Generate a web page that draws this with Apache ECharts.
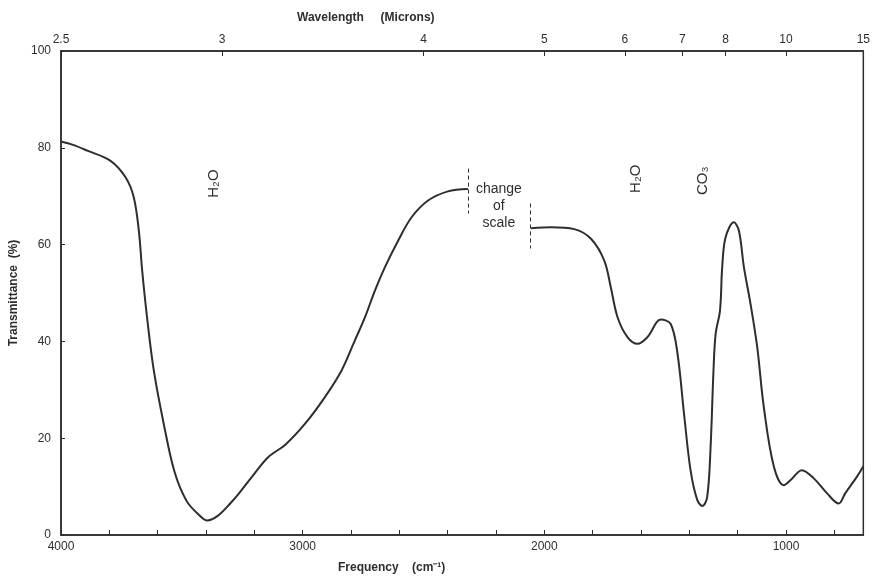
<!DOCTYPE html>
<html>
<head>
<meta charset="utf-8">
<script src="https://cdn.jsdelivr.net/npm/echarts@6/dist/echarts.min.js"></script>
<style>
  html, body { margin: 0; padding: 0; background: #fff; }
  #chart { width: 873px; height: 578px; }
</style>
</head>
<body>
<div id="chart"></div>
<script>
// spectrum before the change of scale (cm-1, % transmittance)
const waveHigh = [4000, 3950, 3891, 3795, 3733, 3699, 3678, 3664, 3644, 3616, 3575, 3530, 3480, 3430, 3395, 3350, 3300, 3265, 3210, 3142, 3073, 2990, 2908, 2839, 2784, 2742, 2701, 2660, 2605, 2550, 2481, 2399, 2316];
const transHigh = [81.3, 80.6, 79.4, 77.3, 73.9, 69.8, 62.9, 54.6, 45, 34, 23, 13, 7, 4.2, 3, 4, 6.5, 8.5, 12, 16.1, 18.6, 23, 28.5, 34, 40.2, 45, 50.5, 55.3, 60.8, 65.6, 69.1, 71, 71.5];

// spectrum after the change of scale
const waveLow = [2055, 1972, 1876, 1807, 1752, 1725, 1697, 1656, 1614, 1573, 1518, 1477, 1449, 1422, 1395, 1367, 1346, 1326, 1312, 1300, 1291, 1273, 1264, 1250, 1216, 1195, 1174, 1147, 1119, 1092, 1050, 1009, 982, 934, 885, 830, 782, 755, 707, 680];
const transLow = [63.4, 63.6, 63.2, 61.2, 56.7, 51.2, 45, 40.9, 39.5, 40.9, 44.5, 43.6, 37.5, 25.1, 13.4, 7.2, 6, 7.9, 18.2, 34, 41.6, 46.4, 55.3, 61.5, 64.6, 62.9, 55.3, 47.8, 38.8, 26.5, 14.1, 10.3, 11.3, 13.4, 11.7, 8.6, 6.5, 8.6, 12, 14.2];

const freqLabels = [4000, 3000, 2000, 1000];
const freqTicks = [4000, 3800, 3600, 3400, 3200, 3000, 2800, 2600, 2400, 2200, 2000, 1800, 1600, 1400, 1200, 1000, 800];
const micronLabels = [2.5, 3, 4, 5, 6, 7, 8, 10, 15];

const xMin = 680, xMax = 4000;
const micronPos = micronLabels.map(m => Math.max(10000 / m, xMin));

const font = "'Liberation Sans', Arial, sans-serif";
const ink = '#2e2e2e';

const pairs = (xs, ys) => xs.map((x, i) => [x, ys[i]]);

// text-only annotation placed at a data coordinate
const note = (coord, text, label) => ({
  coord: coord, name: text,
  symbol: 'circle', symbolSize: 1, itemStyle: { color: 'rgba(0,0,0,0)' },
  label: Object.assign({ show: true, position: 'inside', formatter: '{b}', color: ink, fontFamily: font, fontSize: 15 }, label)
});

const chart = echarts.init(document.getElementById('chart'));
chart.setOption({
  animation: false,
  textStyle: { fontFamily: font },
  grid: { left: 61, right: 7, top: 51, bottom: 43, show: true, borderColor: ink, borderWidth: 1.5 },
  graphic: [
    { type: 'text', left: 297, top: 12, style: { text: 'Wavelength     (Microns)', font: "bold 12px " + font, fill: ink } },
    { type: 'text', left: 338, top: 562, style: { text: 'Frequency    (cm\u207B\u00B9)', font: "bold 12px " + font, fill: ink } }
  ],
  xAxis: [
    {
      type: 'value', position: 'bottom', min: xMin, max: xMax, inverse: true,
      axisLine: { lineStyle: { color: ink, width: 1.5 } },
      axisTick: { inside: true, length: 5, customValues: freqTicks, lineStyle: { color: ink } },
      axisLabel: { customValues: freqLabels, color: ink, fontSize: 12, margin: 6, formatter: v => String(v) },
      splitLine: { show: false }
    },
    {
      type: 'value', position: 'top', min: xMin, max: xMax, inverse: true,
      axisLine: { lineStyle: { color: ink, width: 1.5 } },
      axisTick: { inside: true, length: 5, customValues: micronPos, lineStyle: { color: ink } },
      axisLabel: {
        customValues: micronPos, color: ink, fontSize: 12, margin: 5,
        formatter: v => String(micronLabels[micronPos.indexOf(v)])
      },
      splitLine: { show: false }
    }
  ],
  yAxis: {
    type: 'value', min: 0, max: 100, interval: 20,
    name: 'Transmittance  (%)', nameLocation: 'middle', nameGap: 38,
    nameTextStyle: { color: ink, fontSize: 12, fontWeight: 'bold' },
    axisLine: { show: true, lineStyle: { color: ink, width: 1.5 } },
    axisTick: { show: true, inside: true, length: 4, lineStyle: { color: ink } },
    axisLabel: { color: ink, fontSize: 12, margin: 10 },
    splitLine: { show: false }
  },
  series: [
    {
      type: 'line', data: pairs(waveHigh, transHigh), smooth: 0.35,
      symbol: 'none', lineStyle: { color: ink, width: 2 },
      markLine: {
        silent: true, symbol: 'none', label: { show: false },
        lineStyle: { color: ink, type: [4, 3], width: 1 },
        data: [
          [{ coord: [2316, 75.7] }, { coord: [2316, 66.4] }],
          [{ coord: [2060, 68.5] }, { coord: [2060, 59.2] }]
        ]
      },
      markPoint: {
        silent: true,
        data: [
          note([3369, 72.6], 'H\u2082O', { rotate: 90 }),
          note([2188, 68], 'change\nof\nscale', { fontSize: 14, lineHeight: 17, align: 'center' })
        ]
      }
    },
    {
      type: 'line', data: pairs(waveLow, transLow), smooth: 0.35,
      symbol: 'none', lineStyle: { color: ink, width: 2 },
      markPoint: {
        silent: true,
        data: [
          note([1623, 73.6], 'H\u2082O', { rotate: 90 }),
          note([1346, 73.2], 'CO\u2083', { rotate: 90 })
        ]
      }
    }
  ]
});
</script>
</body>
</html>
